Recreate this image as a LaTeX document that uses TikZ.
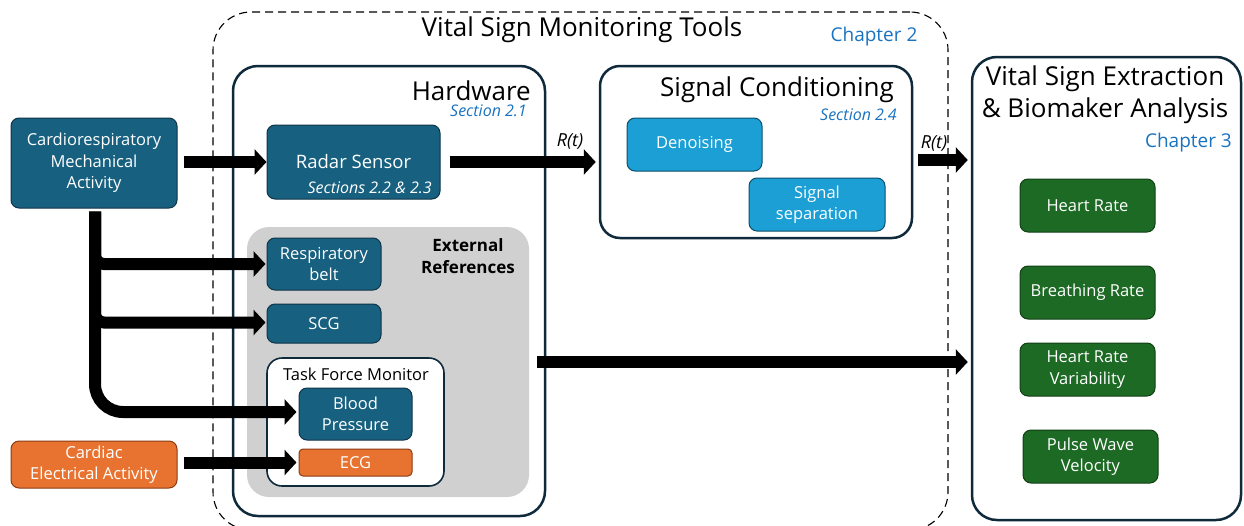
\documentclass[tikz,border=0pt]{standalone}
\usepackage{fontspec}
\setmainfont{Open Sans}
\usetikzlibrary{arrows.meta,calc}
\definecolor{dblue}{HTML}{17607F}
\definecolor{dborder}{HTML}{0F3547}
\definecolor{lblue}{HTML}{1B9FD5}
\definecolor{lborder}{HTML}{0F4F6A}
\definecolor{dgreen}{HTML}{1D6A24}
\definecolor{gborder}{HTML}{123F16}
\definecolor{orng}{HTML}{E87330}
\definecolor{oborder}{HTML}{8A3C12}
\definecolor{navy}{HTML}{0E2A3B}
\definecolor{chap}{HTML}{1A73C0}
\definecolor{grayfill}{HTML}{D0D0D0}
\begin{document}
\begin{tikzpicture}[x=1pt,y=-1pt,
  box/.style={draw=dborder, line width=1pt, rounded corners=8pt, text=white, align=center, inner sep=0pt, font=\fontsize{16.5}{21.5}\selectfont},
  bluebox/.style={box, fill=dblue},
  lightbox/.style={box, fill=lblue, draw=lborder},
  greenbox/.style={box, fill=dgreen, draw=gborder},
  orangebox/.style={box, fill=orng, draw=oborder},
  bigbox/.style={draw=navy, line width=2.5pt, fill=white},
  fat/.style={line width=12pt, -{Triangle[width=25pt,length=12pt]}},
  title/.style={font=\fontsize{26}{32}\selectfont, align=center, inner sep=0pt},
  sect/.style={font=\fontsize{16}{18}\selectfont\itshape, text=chap, inner sep=0pt},
  chapt/.style={font=\fontsize{19}{22}\selectfont, text=chap, inner sep=0pt},
  rlab/.style={font=\fontsize{18}{20}\selectfont\itshape, inner sep=0pt}
]
\useasboundingbox[fill=white] (0,0) rectangle (1244,525);

% dashed outer group
\node[draw=black, dashed, dash pattern=on 8pt off 5pt, line width=1.1pt, rounded corners=38pt,
  minimum width=735pt, minimum height=518pt, inner sep=0pt] (tools) at (580.5,271) {};
\node[title] (toolsT) at (582,30) {Vital Sign Monitoring Tools};
\node[chapt] (ch2) at (874,37) {Chapter 2};

% hardware
\node[bigbox, rounded corners=25pt, minimum width=312pt, minimum height=450pt, inner sep=0pt] (hw) at (389,291) {};
\node[title, anchor=east] (hwT) at (531,91) {Hardware};
\node[sect, anchor=east] (hwS) at (527,111) {Section 2.1};

\node[bluebox, minimum width=173pt, minimum height=74pt, font=\fontsize{18.5}{23}\selectfont] (radar) at (353.5,162) {Radar Sensor};
\node[anchor=east, inner sep=0pt, text=white, font=\fontsize{16}{18}\selectfont\itshape] (radarS) at (432,188) {Sections 2.2 \& 2.3};

\node[fill=grayfill, rounded corners=22pt, minimum width=282pt, minimum height=270pt, inner sep=0pt] (gray) at (388,362) {};
\node[align=center, inner sep=0pt, font=\fontsize{17}{21.5}\selectfont\bfseries] (extT) at (468,256) {External\\References};

\node[bluebox, minimum width=114pt, minimum height=52pt] (resp) at (324,264) {Respiratory\\belt};
\node[bluebox, minimum width=114pt, minimum height=39pt] (scg) at (324,323.5) {SCG};

\node[draw=navy, line width=1.6pt, fill=white, rounded corners=15pt, minimum width=177pt, minimum height=128pt, inner sep=0pt] (tfm) at (355.5,422) {};
\node[inner sep=0pt, font=\fontsize{16.5}{18}\selectfont] (tfmT) at (356,374) {Task Force Monitor};
\node[bluebox, minimum width=113pt, minimum height=52pt] (bp) at (355.5,414) {Blood\\Pressure};
\node[orangebox, rounded corners=4pt, minimum width=113pt, minimum height=27pt] (ecg) at (355.5,462.5) {ECG};

% signal conditioning
\node[bigbox, rounded corners=20pt, minimum width=312pt, minimum height=172pt, inner sep=0pt] (sc) at (756,152) {};
\node[title] (scT) at (777,90) {Signal Conditioning};
\node[sect, anchor=east] (scS) at (897,115) {Section 2.4};
\node[lightbox, minimum width=135pt, minimum height=53pt] (den) at (694.5,144.5) {Denoising};
\node[lightbox, minimum width=136pt, minimum height=53pt] (sep) at (817,204.5) {Signal\\separation};

% extraction
\node[bigbox, rounded corners=25pt, minimum width=269pt, minimum height=463pt, inner sep=0pt] (ext) at (1106.5,288.5) {};
\node[title, font=\fontsize{26}{32}\selectfont] (extTT) at (1105,95) {Vital Sign Extraction\\\& Biomaker Analysis};
\node[chapt, anchor=east] (ch3) at (1232,143) {Chapter 3};
\node[greenbox, minimum width=135pt, minimum height=53pt] (hr) at (1087.5,205.5) {Heart Rate};
\node[greenbox, minimum width=135pt, minimum height=53pt] (br) at (1087.5,292.5) {Breathing Rate};
\node[greenbox, minimum width=135pt, minimum height=53pt] (hrv) at (1087.5,369.5) {Heart Rate\\Variability};
\node[greenbox, minimum width=135pt, minimum height=53pt] (pwv) at (1090.5,456.5) {Pulse Wave\\Velocity};

% sources
\node[bluebox, minimum width=166pt, minimum height=90pt] (cardio) at (94,163) {Cardiorespiratory\\Mechanical\\Activity};
\node[orangebox, minimum width=166pt, minimum height=47pt] (cardiac) at (94,464.5) {Cardiac\\Electrical Activity};

% arrows
\coordinate (trunk) at ($(cardio.south)+(1,3)$);
\draw[fat] ($(cardio.east|-radar.west)+(6,0)$) -- (radar.west);
\draw[fat] ($(radar.east)+(9,0)$) -- ($(sc.west|-radar.east)+(-3,0)$);
\node[rlab] (r1) at (570,141) {R(t)};
\draw[fat] ($(sc.east)+(5,8)$) -- ($(ext.west|-sc.east)+(-3,8)$);
\node[rlab] (r2) at (934,143) {R(t)};
\draw[fat] ($(gray.east)+(8,0)$) -- ($(ext.west|-gray.east)+(-3,0)$);
\draw[fat, rounded corners=28pt] (trunk) |- ($(bp.west)+(-2,-2)$);
\draw[fat, rounded corners=9pt] (trunk) |- ($(resp.west)+(-1,0)$);
\draw[fat, rounded corners=9pt] (trunk) |- ($(scg.west)+(-1,-1)$);
\draw[fat] ($(cardiac.east|-ecg.west)+(6,0)$) -- ($(ecg.west)+(-2,0)$);
\end{tikzpicture}
\end{document}
